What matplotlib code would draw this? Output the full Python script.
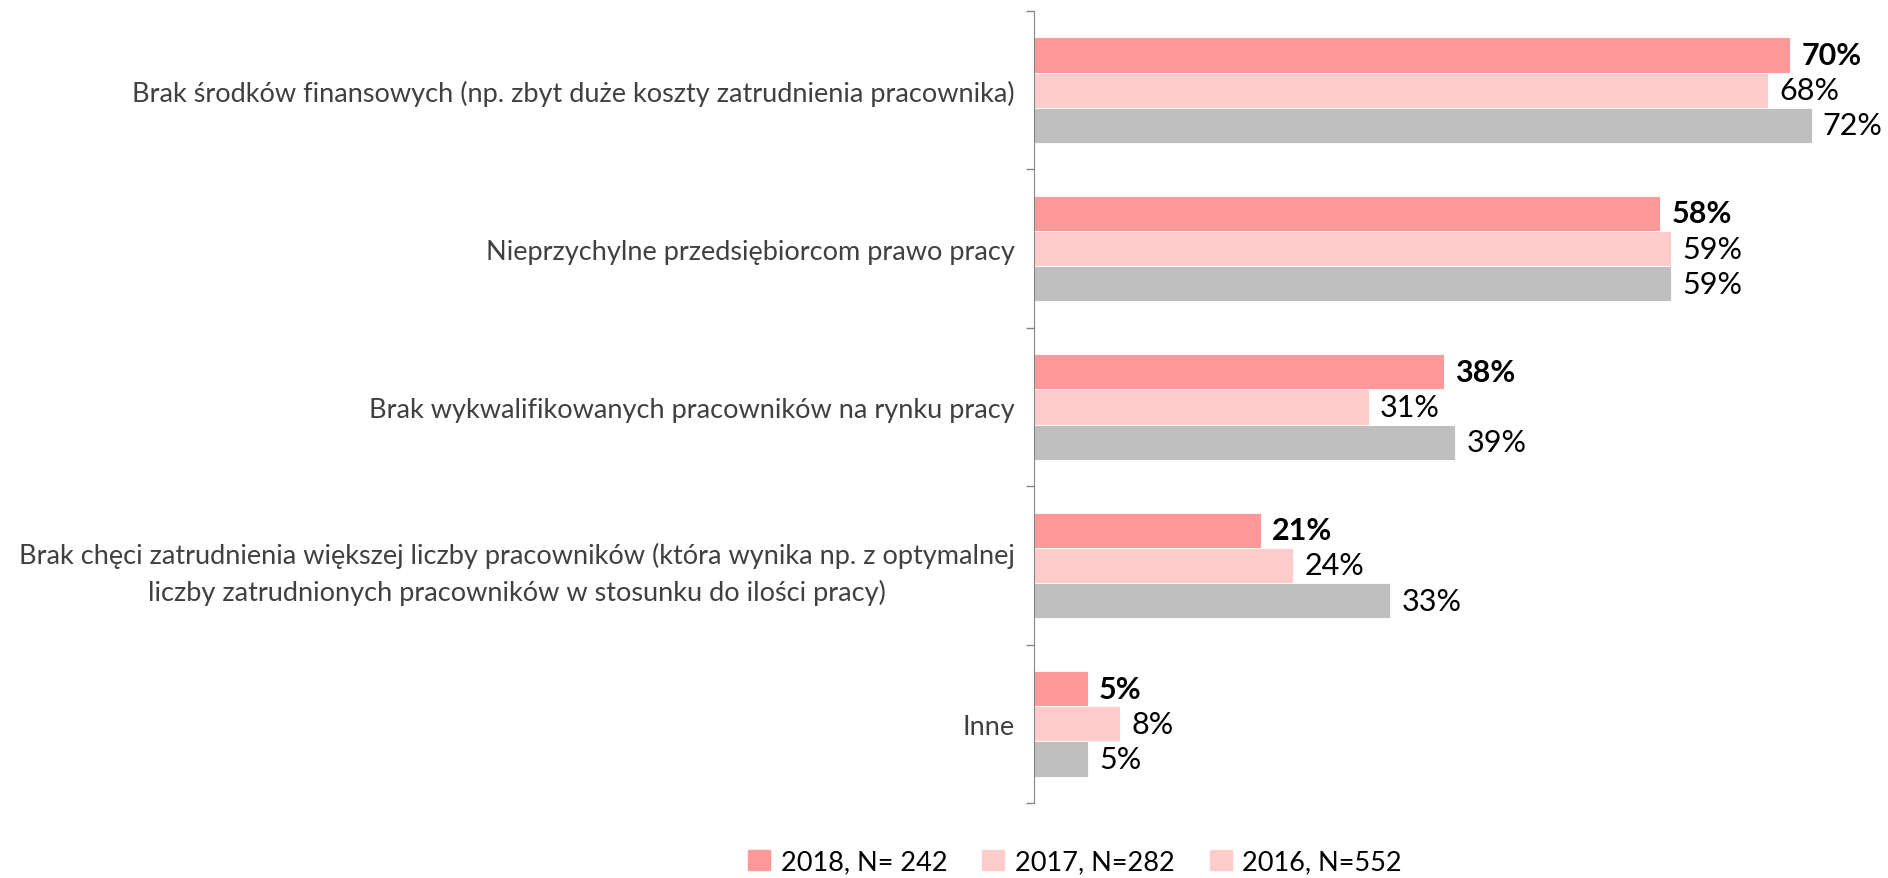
import matplotlib
matplotlib.use("Agg")
from matplotlib import pyplot as plt
from matplotlib.patches import Patch
import numpy as np

# dane
kategorie = [
    "Brak środków finansowych (np. zbyt duże koszty zatrudnienia pracownika)",
    "Nieprzychylne przedsiębiorcom prawo pracy",
    "Brak wykwalifikowanych pracowników na rynku pracy",
    "Brak chęci zatrudnienia większej liczby pracowników (która wynika np. z optymalnej\nliczby zatrudnionych pracowników w stosunku do ilości pracy)",
    "Inne",
]
wyniki_2018 = [70, 58, 38, 21, 5]
wyniki_2017 = [68, 59, 31, 24, 8]
wyniki_2016 = [72, 59, 39, 33, 5]
serie = ["2018, N= 242", "2017, N=282", "2016, N=552"]

kolory = ["#FF9999", "#FFCCCC", "#BFBFBF"]

plt.rcParams["font.family"] = ["Lato", "DejaVu Sans"]

fig = plt.figure(figsize=(18.88, 8.79), dpi=100, facecolor="white")
lewo = 1034 / 1888
ax = fig.add_axes([lewo, 1 - 804 / 879, 1884 / 1888 - lewo, (804 - 12) / 879])

y = np.arange(len(kategorie))
h = 0.222
dane = [wyniki_2018, wyniki_2017, wyniki_2016]
for i, (wart, kolor) in enumerate(zip(dane, kolory)):
    pozycje = y + (i - 1) * h
    ax.barh(pozycje, wart, height=h, color=kolor, edgecolor="white", linewidth=0.6)
    for yy, v in zip(pozycje, wart):
        ax.annotate(f"{v}%", (v, yy), xytext=(8, 0), textcoords="offset points",
                    ha="left", va="center", fontsize=22, color="black",
                    fontweight="bold" if i == 0 else "normal")

ax.set_ylim(len(kategorie) - 0.5, -0.5)
ax.set_xlim(0, 78.7)

ax.set_yticks(y)
ax.set_yticklabels(kategorie, fontsize=19.5, color="#404040",
                   multialignment="center", linespacing=1.5)
ax.set_yticks(np.arange(len(kategorie) + 1) - 0.5, minor=True)
ax.tick_params(axis="y", which="major", length=0, pad=14)
ax.tick_params(axis="y", which="minor", length=6, color="#868686", width=1)
ax.set_xticks([])

for s in ["top", "right", "bottom"]:
    ax.spines[s].set_visible(False)
ax.spines["left"].set_color("#868686")

# legenda (w oryginale znacznik 2016 ma kolor jak 2017)
uchwyty = [Patch(color=kolory[0]), Patch(color=kolory[1]), Patch(color=kolory[1])]
fig.legend(uchwyty, serie, loc="center", bbox_to_anchor=(1075 / 1888, 1 - 863 / 879),
           ncol=3, frameon=False, fontsize=19.5, handlelength=0.8, handleheight=0.8,
           handletextpad=0.4, columnspacing=1.3)

fig.savefig("out.png", dpi=100, facecolor="white")
